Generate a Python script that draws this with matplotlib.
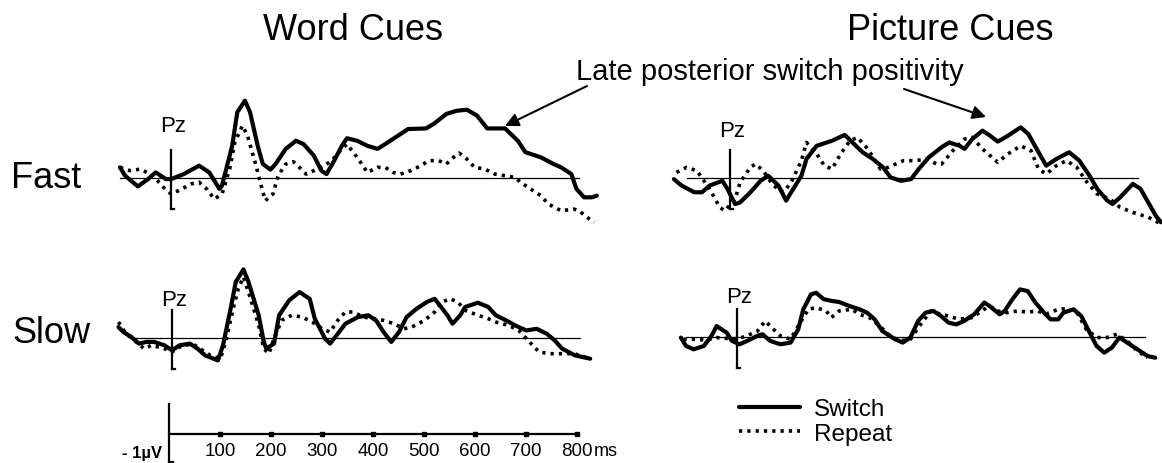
import numpy as np
import matplotlib.pyplot as plt
from matplotlib.lines import Line2D

plt.rcParams['font.family'] = ['Liberation Sans', 'DejaVu Sans']

W, H = 1162, 464
PX_MS = 0.51   # pixels per ms
PX_UV = 28.0   # pixels per microvolt

# ERP waveforms at Pz, time in ms, amplitude in uV (positive up)
fast_word_sw_t = [-100, -90, -65, -45, -30, -10, 0, 25, 55, 75, 95, 100, 120, 130, 145, 155, 170, 180, 195, 205,
                  225, 245, 260, 280, 295, 305, 320, 335, 345, 365, 385, 405, 420, 445, 465, 500, 515, 540, 560, 580,
                  600, 620, 655, 680, 695, 725, 750, 765, 785, 795, 810, 825, 835]
fast_word_sw_v = [0.38, 0.08, -0.30, -0.04, 0.20, -0.04, -0.04, 0.14, 0.44, 0.20, -0.39, -0.27, 1.15, 2.35, 2.76, 2.35, 1.15, 0.50, 0.30, 0.50,
                  1.04, 1.33, 1.21, 0.80, 0.26, 0.14, 0.62, 1.15, 1.42, 1.33, 1.15, 1.04, 1.21, 1.51, 1.75, 1.77, 1.93, 2.29, 2.40, 2.44,
                  2.23, 1.77, 1.77, 1.33, 0.92, 0.74, 0.50, 0.38, 0.14, -0.39, -0.69, -0.69, -0.63]

fast_word_rep_t = [-100, -80, -60, -35, -15, 0, 15, 40, 55, 70, 85, 100, 115, 125, 140, 150, 165, 175, 185, 200,
                   210, 225, 240, 255, 265, 280, 300, 315, 335, 345, 365, 385, 405, 420, 435, 450, 470, 490, 505, 525,
                   540, 550, 565, 580, 595, 615, 635, 655, 675, 685, 705, 725, 740, 765, 790, 800, 820, 830]
fast_word_rep_v = [0.38, 0.26, 0.32, 0.08, -0.33, -0.57, -0.45, -0.21, -0.15, -0.39, -0.75, -0.57, 0.32, 1.27, 1.87, 1.51, 0.56, -0.15, -0.81, -0.57,
                   0.08, 0.50, 0.58, 0.32, 0.14, 0.26, 0.44, 0.62, 1.04, 1.21, 0.74, 0.20, 0.38, 0.38, 0.20, 0.14, 0.26, 0.44, 0.62, 0.62,
                   0.50, 0.68, 0.89, 0.68, 0.38, 0.32, 0.14, 0.08, 0.02, -0.15, -0.39, -0.63, -0.93, -1.17, -1.11, -1.17, -1.46, -1.58]

fast_pic_sw_t = [-110, -95, -70, -55, -40, -15, -5, 10, 20, 40, 60, 75, 95, 110, 120, 140, 150, 170, 200, 225,
                 240, 260, 280, 300, 315, 335, 355, 370, 390, 415, 430, 450, 460, 475, 495, 510, 525, 545, 570, 585,
                 605, 620, 640, 665, 685, 705, 720, 740, 750, 765, 790, 805, 820, 835, 845]
fast_pic_sw_v = [-0.04, -0.27, -0.51, -0.51, -0.27, -0.10, -0.39, -0.93, -0.87, -0.51, -0.10, 0.08, -0.27, -0.81, -0.51, 0.08, 0.68, 1.15, 1.33, 1.54,
                 1.27, 0.92, 0.68, 0.38, 0.02, -0.10, -0.04, 0.32, 0.74, 1.10, 1.27, 1.15, 1.04, 1.39, 1.69, 1.51, 1.30, 1.51, 1.81, 1.57,
                 0.92, 0.44, 0.68, 0.92, 0.62, 0.08, -0.39, -0.81, -0.93, -0.69, -0.21, -0.39, -0.87, -1.35, -1.58]

fast_pic_rep_t = [-105, -85, -65, -40, -20, -10, 10, 20, 40, 50, 65, 85, 105, 120, 140, 150, 170, 185, 200, 215,
                  235, 250, 270, 295, 310, 340, 365, 385, 405, 415, 440, 460, 475, 495, 525, 545, 570, 590, 605, 620,
                  640, 660, 680, 700, 720, 745, 765, 790, 820, 845]
fast_pic_rep_v = [0.20, 0.38, 0.26, -0.39, -1.05, -1.17, -0.75, -0.15, 0.38, 0.50, 0.26, -0.27, -0.51, -0.15, 0.62, 1.27, 0.86, 0.44, 0.32, 0.80,
                  1.33, 1.45, 1.04, 0.32, 0.38, 0.62, 0.62, 0.68, 0.50, 0.50, 1.04, 1.39, 1.45, 1.04, 0.56, 0.86, 1.15, 0.98, 0.32, 0.14,
                  0.44, 0.62, 0.38, -0.15, -0.57, -0.75, -1.05, -1.23, -1.40, -1.64]

slow_word_sw_t = [-105, -95, -80, -65, -50, -35, -15, 0, 15, 35, 50, 65, 90, 100, 115, 125, 140, 150, 170, 180,
                  185, 200, 210, 230, 250, 270, 280, 300, 310, 325, 340, 365, 385, 400, 415, 430, 445, 460, 480, 500,
                  515, 525, 540, 550, 565, 575, 600, 620, 635, 655, 675, 695, 715, 735, 750, 765, 790, 805, 820]
slow_word_sw_v = [0.39, 0.21, 0.04, -0.20, -0.14, -0.14, -0.26, -0.44, -0.26, -0.20, -0.38, -0.62, -0.80, -0.26, 1.05, 2.00, 2.45, 2.00, 0.81, -0.14,
                  -0.38, -0.20, 0.81, 1.35, 1.64, 1.40, 0.69, -0.02, -0.20, 0.15, 0.51, 0.75, 0.81, 0.63, 0.21, -0.14, 0.21, 0.75, 1.05, 1.29,
                  1.40, 1.17, 0.81, 0.51, 0.81, 1.11, 1.26, 1.11, 0.81, 0.63, 0.43, 0.27, 0.33, 0.15, -0.08, -0.38, -0.62, -0.68, -0.74]

slow_word_rep_t = [-105, -90, -70, -55, -40, -15, 0, 15, 40, 55, 75, 95, 105, 120, 130, 140, 150, 170, 180, 190,
                   200, 215, 235, 255, 275, 295, 310, 325, 340, 355, 375, 395, 415, 435, 455, 470, 495, 515, 530, 545,
                   560, 575, 600, 620, 635, 660, 680, 695, 710, 720, 740, 765, 790, 805, 820]
slow_word_rep_v = [0.57, 0.15, -0.14, -0.38, -0.26, -0.38, -0.50, -0.32, -0.20, -0.38, -0.62, -0.74, -0.14, 1.05, 1.76, 2.18, 1.64, 0.45, -0.38, -0.56,
                   -0.02, 0.63, 0.81, 0.75, 0.57, 0.33, 0.21, 0.63, 0.93, 0.93, 0.75, 0.69, 0.63, 0.51, 0.33, 0.39, 0.63, 0.93, 1.29, 1.40,
                   1.29, 0.99, 0.81, 0.69, 0.57, 0.45, 0.27, -0.02, -0.32, -0.50, -0.56, -0.56, -0.56, -0.68, -0.68]

slow_pic_sw_t = [-110, -100, -85, -65, -50, -40, -20, -10, 5, 20, 40, 50, 65, 85, 105, 120, 130, 145, 155, 170,
                 185, 200, 220, 240, 255, 270, 285, 310, 325, 340, 355, 370, 385, 400, 415, 430, 445, 465, 485, 495,
                 515, 525, 540, 555, 570, 585, 605, 615, 630, 640, 660, 675, 690, 705, 720, 735, 750, 765, 785, 805, 820]
slow_pic_sw_v = [-0.02, -0.32, -0.44, -0.32, 0.04, 0.39, 0.15, -0.14, -0.26, -0.14, 0.04, 0.10, -0.14, -0.26, -0.20, 0.27, 0.99, 1.52, 1.58, 1.35,
                 1.29, 1.25, 1.11, 0.99, 0.87, 0.63, 0.21, -0.08, -0.20, -0.02, 0.57, 0.87, 0.93, 0.75, 0.51, 0.45, 0.57, 0.81, 1.23, 1.11,
                 0.81, 0.93, 1.35, 1.70, 1.64, 1.23, 0.81, 0.63, 0.63, 0.87, 0.99, 0.75, 0.21, -0.32, -0.56, -0.38, -0.02, -0.20, -0.44, -0.68, -0.74]

slow_pic_rep_t = [-105, -85, -60, -40, -15, 0, 15, 40, 55, 65, 85, 105, 120, 140, 155, 175, 185, 200, 225, 240,
                  260, 280, 300, 320, 340, 360, 380, 400, 415, 435, 460, 475, 495, 510, 530, 550, 570, 590, 605, 630,
                  645, 665, 685, 705, 725, 745, 765, 785, 805]
slow_pic_rep_v = [-0.08, -0.08, -0.11, -0.02, -0.06, -0.06, 0.01, 0.21, 0.57, 0.39, 0.04, -0.08, 0.39, 0.99, 1.05, 0.93, 0.69, 0.93, 0.99, 0.81,
                  0.69, 0.39, 0.04, -0.14, -0.08, 0.45, 0.93, 0.81, 0.75, 0.63, 0.69, 0.87, 1.11, 0.93, 0.87, 0.93, 0.89, 0.93, 0.81, 0.99,
                  1.01, 0.93, 0.27, -0.02, -0.02, 0.10, -0.14, -0.50, -0.74]

scale_ticks = [100, 200, 300, 400, 500, 600, 700, 800]

SOLID = dict(color='black', lw=3.0, solid_joinstyle='round', solid_capstyle='round')
DOTTED = dict(color='black', lw=2.6, linestyle=(0, (0.9, 1.4)), dash_capstyle='butt')

fig = plt.figure(figsize=(W / 100, H / 100), dpi=100)


def erp_axes(x0, y0, t_lo=-150, t_hi=870, v_lo=-2.5, v_hi=3.5):
    # x0, y0 = pixel position (from top-left) of 0 ms / 0 uV
    left = x0 + t_lo * PX_MS
    bottom = y0 - v_lo * PX_UV
    ax = fig.add_axes([left / W, 1 - bottom / H, (t_hi - t_lo) * PX_MS / W, (v_hi - v_lo) * PX_UV / H])
    ax.set_xlim(t_lo, t_hi)
    ax.set_ylim(v_lo, v_hi)
    ax.axis('off')
    return ax


panels = [
    (171, 179, -100, 1.87, fast_word_sw_t, fast_word_sw_v, fast_word_rep_t, fast_word_rep_v),
    (730, 179, -85, 1.69, fast_pic_sw_t, fast_pic_sw_v, fast_pic_rep_t, fast_pic_rep_v),
    (172, 339, -80, 1.39, slow_word_sw_t, slow_word_sw_v, slow_word_rep_t, slow_word_rep_v),
    (737, 338, -100, 1.46, slow_pic_sw_t, slow_pic_sw_v, slow_pic_rep_t, slow_pic_rep_v),
]
axes = []
for x0, y0, b0, pz_y, st, sv, rt, rv in panels:
    ax = erp_axes(x0, y0)
    ax.plot([b0, 800], [0, 0], color='black', lw=0.9)
    ax.plot([0, 0], [1.0, -1.1], color='black', lw=1.6)
    ax.plot([0, 6], [-1.1, -1.1], color='black', lw=1.6)
    ax.plot(rt, rv, **DOTTED)
    ax.plot(st, sv, **SOLID)
    ax.text(4, pz_y, 'Pz', ha='center', va='center', fontsize=16)
    axes.append(ax)

# time / voltage scale bar
sc = erp_axes(169, 435)
sc.plot([0, 800], [0, 0], color='black', lw=1.6)
sc.plot([0, 0], [1.07, -1.0], color='black', lw=1.6)
sc.plot([0, 8], [-1.0, -1.0], color='black', lw=1.6)
sc.plot(scale_ticks, np.zeros(len(scale_ticks)), 's', color='black', ms=3.4)
for t in scale_ticks:
    sc.text(t, -0.6, str(t), ha='center', va='center', fontsize=13.5)
sc.text(-14, -0.65, '- 1µV', ha='right', va='center', fontsize=12, fontweight='bold')
sc.text(832, -0.6, 'ms', ha='left', va='center', fontsize=13)

# titles and row labels
fig.text(353 / W, 1 - 40 / H, 'Word Cues', ha='center', va='baseline', fontsize=26)
fig.text(950 / W, 1 - 40 / H, 'Picture Cues', ha='center', va='baseline', fontsize=26)
fig.text(11 / W, 1 - 188 / H, 'Fast', ha='left', va='baseline', fontsize=26)
fig.text(12 / W, 1 - 343 / H, 'Slow', ha='left', va='baseline', fontsize=26)
fig.text(770 / W, 1 - 80 / H, 'Late posterior switch positivity', ha='center', va='baseline', fontsize=21)

arrow = dict(arrowstyle='-|>', color='black', lw=1.5, mutation_scale=20, shrinkA=0, shrinkB=0)
axes[0].annotate('', xy=(655, 1.86), xycoords='data',
                 xytext=(587 / W, 1 - 87 / H), textcoords='figure fraction', arrowprops=arrow)
axes[1].annotate('', xy=(502, 2.18), xycoords='data',
                 xytext=(904 / W, 1 - 90 / H), textcoords='figure fraction', arrowprops=arrow)

handles = [Line2D([], [], **SOLID), Line2D([], [], **DOTTED)]
fig.legend(handles, ['Switch', 'Repeat'], loc='upper left', bbox_to_anchor=(739 / W, 1 - 399 / H),
           frameon=False, fontsize=17.5, handlelength=2.5, handletextpad=0.6, labelspacing=0.12,
           borderpad=0, borderaxespad=0)

fig.savefig('out.png', dpi=100)
